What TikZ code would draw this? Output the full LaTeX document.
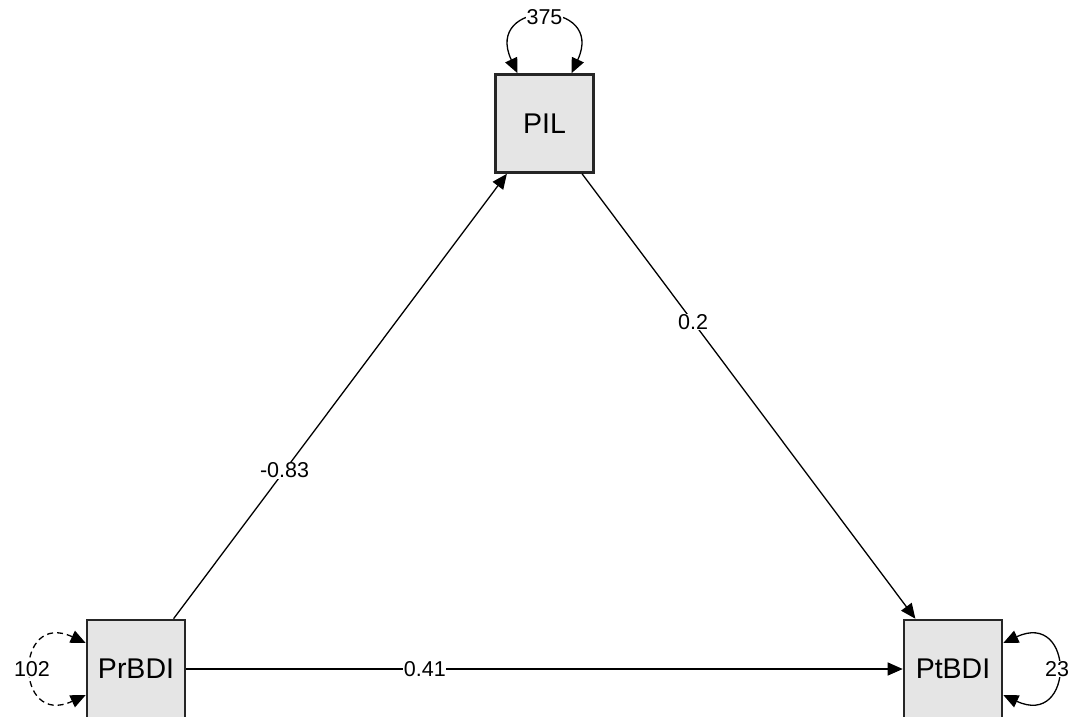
\documentclass[tikz,border=0pt]{standalone}
\usepackage{fontspec}
\setmainfont{Liberation Sans}
\usetikzlibrary{arrows.meta,calc}
\tikzset{
  var/.style={draw=black!85, line width=2.6pt, fill=gray!20, minimum width=98pt, minimum height=98pt, inner sep=0pt, font=\fontsize{28.5}{28.5}\selectfont},
  path/.style={line width=1.3pt, -{Triangle[length=15pt,width=13pt]}},
  loop/.style={line width=1.3pt, {Triangle[length=15pt,width=13pt]}-{Triangle[length=15pt,width=13pt]}, looseness=3.9},
  lbl/.style={fill=white, inner sep=0.5pt, font=\fontsize{21.5}{21.5}\selectfont}
}
\begin{document}
\begin{tikzpicture}[x=1pt,y=-1pt]
\useasboundingbox (0,0) rectangle (1074,716);
\node[var] (PIL) at (544.5,123.5) {PIL};
\node[var] (PrBDI) at (136,669) {PrBDI};
\node[var] (PtBDI) at (953,669) {PtBDI};
% paths
\draw[path] (PrBDI) -- node[lbl,pos=0.333] {-0.83} (PIL);
\draw[path] (PIL) -- node[lbl,pos=0.333] {0.2} (PtBDI);
\draw[path] (PrBDI) -- node[lbl,pos=0.333] {0.41} (PtBDI);
% loop anchors
\coordinate (pilL) at ($(PIL.north)+(-27,0)$);
\coordinate (pilR) at ($(PIL.north)+(27,0)$);
\coordinate (prU) at ($(PrBDI.west)+(0,-26)$);
\coordinate (prD) at ($(PrBDI.west)+(0,26)$);
\coordinate (ptU) at ($(PtBDI.east)+(0,-26)$);
\coordinate (ptD) at ($(PtBDI.east)+(0,26)$);
% variances
\draw[loop] (pilL) to[out=115,in=65] node[lbl] {375} (pilR);
\draw[loop,dash pattern=on 6pt off 4pt] (prU) to[out=155,in=-155] node[lbl] {102} (prD);
\draw[loop] (ptU) to[out=25,in=-25] node[lbl] {23} (ptD);
\end{tikzpicture}
\end{document}
